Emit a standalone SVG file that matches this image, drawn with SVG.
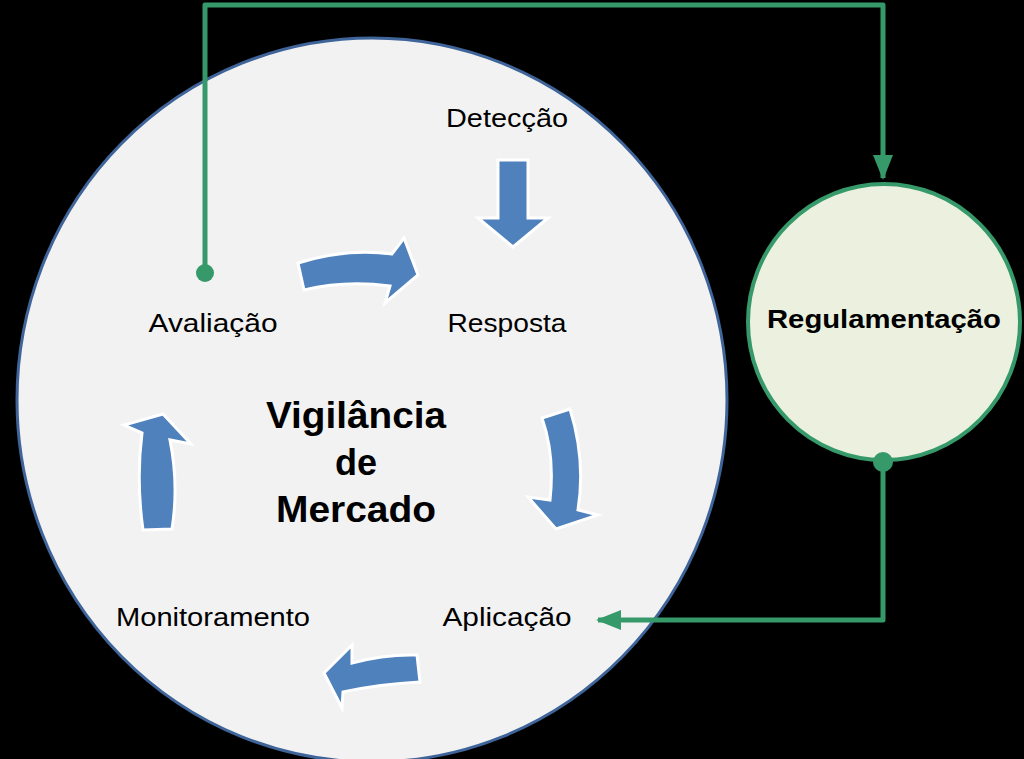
<svg xmlns="http://www.w3.org/2000/svg" width="1024" height="759" viewBox="0 0 1024 759">
<style>
.lbl{font-family:"Liberation Sans",Arial,sans-serif;font-size:26px;fill:#000;text-anchor:middle}
.big{font-family:"Liberation Sans",Arial,sans-serif;font-size:36px;font-weight:bold;fill:#000;text-anchor:middle}
.reg{font-family:"Liberation Sans",Arial,sans-serif;font-size:26px;font-weight:bold;fill:#000;text-anchor:middle}
.arr{fill:#4F81BD;stroke:#FFFFFF;stroke-width:3;stroke-linejoin:miter}
.conn{fill:none;stroke:#36996A;stroke-width:5;stroke-linejoin:round}
</style>
<defs>
<marker id="ah" markerWidth="5" markerHeight="4" refX="4.6" refY="2" orient="auto" markerUnits="strokeWidth">
<path d="M0,0 L5,2 L0,4 Z" fill="#36996A"/>
</marker>
</defs>
<rect x="0" y="0" width="1024" height="759" fill="#000"/>
<g id="vigilancia">
<ellipse cx="372" cy="400" rx="355" ry="362" fill="#F2F2F2" stroke="#3E6499" stroke-width="3"/>
<text class="big" x="356" y="428" textLength="180" lengthAdjust="spacingAndGlyphs">Vigilância</text>
<text class="big" x="356" y="475">de</text>
<text class="big" x="356" y="522" textLength="160" lengthAdjust="spacingAndGlyphs">Mercado</text>
</g>
<g id="deteccao"><text class="lbl" x="507" y="127" textLength="122" lengthAdjust="spacingAndGlyphs">Detecção</text></g>
<g id="resposta"><text class="lbl" x="507" y="332" textLength="119" lengthAdjust="spacingAndGlyphs">Resposta</text></g>
<g id="avaliacao"><text class="lbl" x="213" y="332" textLength="129" lengthAdjust="spacingAndGlyphs">Avaliação</text></g>
<g id="monitoramento"><text class="lbl" x="213" y="626" textLength="194" lengthAdjust="spacingAndGlyphs">Monitoramento</text></g>
<g id="aplicacao"><text class="lbl" x="507" y="626" textLength="129" lengthAdjust="spacingAndGlyphs">Aplicação</text></g>
<g id="regulamentacao">
<ellipse cx="884" cy="322" rx="136" ry="138" fill="#EBF1DE" stroke="#36996A" stroke-width="4"/>
<text class="reg" x="884" y="328" textLength="234" lengthAdjust="spacingAndGlyphs">Regulamentação</text>
</g>
<g id="cycle-arrows">
<path class="arr" d="M498 160 L528 160 L528 218 L548 218 L513 247 L478 218 L498 218 Z"/>
<path class="arr" d="M298 263 Q345 248 392 254 L404 238 L418 275 L385 303 L390 286 Q345 280 304 290 Z"/>
<path class="arr" d="M542 418 L570 409 Q586 460 578 510 L598 515 L556 529 L528 497 L550 500 Q555 455 542 418 Z"/>
<path class="arr" d="M417 655 L420 682 Q380 684 343 692 L342 708 L324 673 L352 645 L352 663 Q385 654 417 655 Z"/>
<path class="arr" d="M143 530 Q136 480 142 433 L124 425 L163 414 L191 444 L170 440 Q179 485 172 529 Z"/>
</g>
<g id="connectors">
<path class="conn" d="M205 273 L205 5 L883 5 L883 178" marker-end="url(#ah)"/>
<circle cx="205" cy="273" r="9" fill="#36996A"/>
<path class="conn" d="M883 462 L883 620 L598 620" marker-end="url(#ah)"/>
<circle cx="883" cy="462" r="10" fill="#36996A"/>
</g>
</svg>
